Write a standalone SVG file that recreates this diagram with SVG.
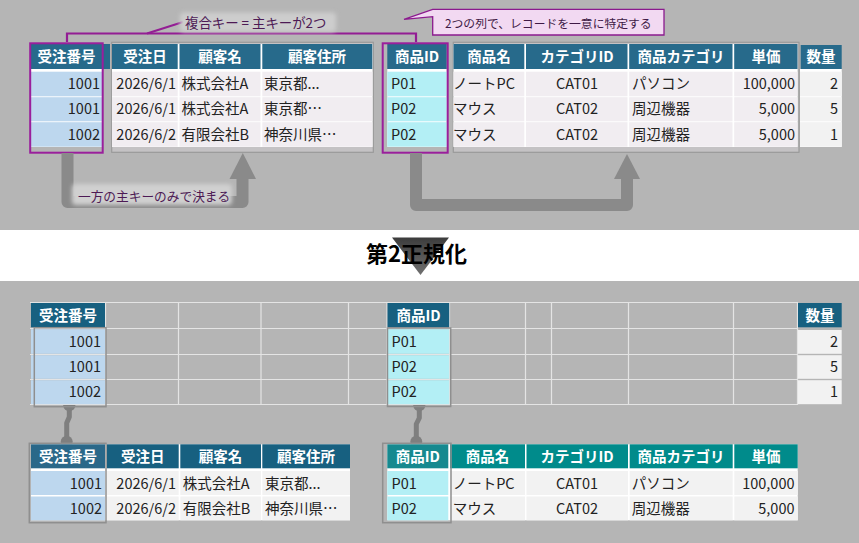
<svg xmlns="http://www.w3.org/2000/svg" width="859" height="543" viewBox="0 0 859 543">
<defs>
<style>
text{font-family:'Noto Sans CJK JP','Noto Sans',sans-serif}
.h{fill:#276a8b}.h2{fill:#176080}.hk{fill:#2a6889}.tl{fill:#008b8b}.tk{fill:#16898f}
.k{fill:#bdd7ee}.cy{fill:#b3eff5}.c1{fill:#f1edf1}.c2{fill:#f2f2f2}.w{fill:#fff}
.ht{font-size:14.5px;font-weight:bold;fill:#fff;text-anchor:middle}
.d{font-size:14.5px;fill:#222}
.e{text-anchor:end}.m{text-anchor:middle}
.fr{fill:#c4c2c4;stroke:#9a9a9a;stroke-width:1.2}
.sel{fill:none;stroke:#8f8f8f;stroke-width:1.5}
.pk{fill:none;stroke:#9a1f9c;stroke-width:2}
.gl{stroke:#e4e4e4;stroke-width:1.2}
.arr{fill:none;stroke:#8a8a8a;stroke-width:12;stroke-linejoin:round}
.ah{fill:#8a8a8a}
.lk{stroke:#7f7f7f;stroke-width:5;fill:none;stroke-linejoin:round}
.dot{fill:#7f7f7f}
.lbl{fill:#4d1a55}
</style>
<filter id="blur" x="-20%" y="-50%" width="140%" height="200%"><feGaussianBlur stdDeviation="2"/></filter>
<linearGradient id="tri" x1="0" y1="0" x2="0" y2="1"><stop offset="0" stop-color="#3c3c3c"/><stop offset="1" stop-color="#707070"/></linearGradient>
</defs>

<rect x="0" y="0" width="859" height="230" fill="#b5b5b5"/>
<rect x="0" y="230" width="859" height="51" fill="#fff"/>
<rect x="0" y="281" width="859" height="262" fill="#b5b5b5"/>

<!-- ===== TOP: unnormalized table ===== -->
<g id="top-order-key">
<rect class="h" x="31" y="44" width="79" height="25"/>
<rect class="w" x="31" y="69" width="71" height="78"/>
<rect class="k" x="31" y="71.7" width="71" height="24.6"/>
<rect class="k" x="31" y="97.2" width="71" height="24.1"/>
<rect class="k" x="31" y="122.2" width="71" height="24.5"/>
<text class="ht" x="66.5" y="62">受注番号</text>
<text class="d e" x="100" y="89">1001</text>
<text class="d e" x="100" y="114">1001</text>
<text class="d e" x="100" y="139.5">1002</text>
<rect class="pk" x="30.2" y="43.3" width="72.5" height="109.4"/>
</g>

<g id="top-order-cols">
<rect class="fr" x="111.7" y="42.3" width="261.6" height="110"/>
<rect class="w" x="112" y="44" width="260.5" height="103"/>
<rect class="h" x="112" y="44" width="65.7" height="25"/>
<rect class="h" x="179.5" y="44" width="81" height="25"/>
<rect class="h" x="262.3" y="44" width="110" height="25"/>
<rect class="c1" x="112" y="71.7" width="65.7" height="24.6"/>
<rect class="c1" x="179.5" y="71.7" width="81" height="24.6"/>
<rect class="c1" x="262.3" y="71.7" width="110" height="24.6"/>
<rect class="c1" x="112" y="97.2" width="65.7" height="24.1"/>
<rect class="c1" x="179.5" y="97.2" width="81" height="24.1"/>
<rect class="c1" x="262.3" y="97.2" width="110" height="24.1"/>
<rect class="c1" x="112" y="122.2" width="65.7" height="24.5"/>
<rect class="c1" x="179.5" y="122.2" width="81" height="24.5"/>
<rect class="c1" x="262.3" y="122.2" width="110" height="24.5"/>
<text class="ht" x="145" y="62">受注日</text>
<text class="ht" x="220" y="62">顧客名</text>
<text class="ht" x="317" y="62">顧客住所</text>
<text class="d e" x="176" y="89">2026/6/1</text>
<text class="d" x="181.5" y="89">株式会社A</text>
<text class="d" x="264" y="89">東京都...</text>
<text class="d e" x="176" y="114">2026/6/1</text>
<text class="d" x="181.5" y="114">株式会社A</text>
<text class="d" x="264" y="114">東京都…</text>
<text class="d e" x="176" y="139.5">2026/6/2</text>
<text class="d" x="181.5" y="139.5">有限会社B</text>
<text class="d" x="264" y="139.5">神奈川県…</text>
</g>

<g id="top-product-key">
<rect class="h" x="387.3" y="44" width="59.4" height="25"/>
<rect class="w" x="387.3" y="69" width="59.4" height="78"/>
<rect class="cy" x="387.3" y="71.7" width="59.4" height="24.6"/>
<rect class="cy" x="387.3" y="97.2" width="59.4" height="24.1"/>
<rect class="cy" x="387.3" y="122.2" width="59.4" height="24.5"/>
<text class="ht" x="417" y="62">商品ID</text>
<text class="d" x="391" y="89">P01</text>
<text class="d" x="391" y="114">P02</text>
<text class="d" x="391" y="139.5">P02</text>
<rect class="pk" x="382.7" y="43.3" width="65" height="109.4"/>
</g>

<g id="top-product-cols">
<rect class="fr" x="453.3" y="42.3" width="345.7" height="110"/>
<rect class="w" x="453.5" y="44" width="344" height="103"/>
<rect class="h" x="453.5" y="44" width="70.8" height="25"/>
<rect class="h" x="526" y="44" width="101.5" height="25"/>
<rect class="h" x="629.2" y="44" width="103.3" height="25"/>
<rect class="h" x="734.2" y="44" width="63.3" height="25"/>
<rect class="c1" x="453.5" y="71.7" width="70.8" height="24.6"/>
<rect class="c1" x="526" y="71.7" width="101.5" height="24.6"/>
<rect class="c1" x="629.2" y="71.7" width="103.3" height="24.6"/>
<rect class="c1" x="734.2" y="71.7" width="63.3" height="24.6"/>
<rect class="c1" x="453.5" y="97.2" width="70.8" height="24.1"/>
<rect class="c1" x="526" y="97.2" width="101.5" height="24.1"/>
<rect class="c1" x="629.2" y="97.2" width="103.3" height="24.1"/>
<rect class="c1" x="734.2" y="97.2" width="63.3" height="24.1"/>
<rect class="c1" x="453.5" y="122.2" width="70.8" height="24.5"/>
<rect class="c1" x="526" y="122.2" width="101.5" height="24.5"/>
<rect class="c1" x="629.2" y="122.2" width="103.3" height="24.5"/>
<rect class="c1" x="734.2" y="122.2" width="63.3" height="24.5"/>
<text class="ht" x="489" y="62">商品名</text>
<text class="ht" x="577" y="62">カテゴリID</text>
<text class="ht" x="681" y="62">商品カテゴリ</text>
<text class="ht" x="766" y="62">単価</text>
<text class="d" x="453" y="89">ノートPC</text>
<text class="d m" x="577" y="89">CAT01</text>
<text class="d" x="632" y="89">パソコン</text>
<text class="d e" x="795" y="89">100,000</text>
<text class="d" x="453" y="114">マウス</text>
<text class="d m" x="577" y="114">CAT02</text>
<text class="d" x="632" y="114">周辺機器</text>
<text class="d e" x="795" y="114">5,000</text>
<text class="d" x="453" y="139.5">マウス</text>
<text class="d m" x="577" y="139.5">CAT02</text>
<text class="d" x="632" y="139.5">周辺機器</text>
<text class="d e" x="795" y="139.5">5,000</text>
</g>

<g id="top-quantity">
<rect class="h" x="800.7" y="45" width="41" height="24"/>
<rect class="w" x="800" y="69" width="41.7" height="78"/>
<rect class="c2" x="800" y="71.7" width="41.7" height="24.6"/>
<rect class="c2" x="800" y="97.2" width="41.7" height="24.1"/>
<rect class="c2" x="800" y="122.2" width="41.7" height="24.5"/>
<text class="ht" x="821" y="62">数量</text>
<text class="d e" x="838" y="89">2</text>
<text class="d e" x="838" y="114">5</text>
<text class="d e" x="838" y="139.5">1</text>
</g>

<!-- connectors -->
<g id="connectors">
<path d="M67,42 V33.5 H416 V42" stroke="#931d94" stroke-width="2.2" fill="none"/>
<path d="M147,33.5 L183,22" stroke="#931d94" stroke-width="2" fill="none"/>
<path class="arr" d="M67.5,153 V202 H242.5 V178"/>
<polygon class="ah" points="229.5,179 256,179 242.8,153"/>
<path class="arr" d="M416,153 V205 H627 V178"/>
<polygon class="ah" points="614,179 640,179 627,154"/>
<path class="lk" d="M69.3,405 V417 L66.7,423 V441.7"/>
<circle class="dot" cx="69.3" cy="405.3" r="6"/>
<circle class="dot" cx="66.7" cy="441.7" r="6"/>
<path class="lk" d="M419.3,405 V418 L416.3,424 V441.7"/>
<circle class="dot" cx="419.3" cy="405.3" r="6"/>
<circle class="dot" cx="416.3" cy="441.7" r="6"/>
</g>

<g id="label-composite-key">
<rect x="180" y="12.5" width="156" height="19.5" rx="4" fill="#cdcdcd" filter="url(#blur)"/>
<text class="lbl" x="185" y="28" style="font-size:13.4px">複合キー&#160;=&#160;主キーが2つ</text>
</g>

<g id="label-unique">
<path d="M404,19.3 L432.7,9.3 H664 V35 H432.7 V16.7 Z" fill="#f2d9f2" stroke="#8b1a8e" stroke-width="1.3"/>
<text x="445" y="28" style="font-size:11.8px" fill="#3e1a45">2つの列で、レコードを一意に特定する</text>
</g>

<g id="label-partial">
<rect x="72" y="184" width="160" height="21" rx="4" fill="#d0d0d0" filter="url(#blur)"/>
<text class="lbl" x="78" y="200.5" style="font-size:12.7px">一方の主キーのみで決まる</text>
</g>

<g id="step-title">
<polygon points="392,237.5 449,237.5 420.5,275" fill="url(#tri)"/>
<text x="416.5" y="262" font-size="22" font-weight="bold" fill="#000" text-anchor="middle">第2正規化</text>
</g>

<!-- ===== BOTTOM ===== -->
<g id="grid" class="gl">
<line x1="30" y1="302.5" x2="798" y2="302.5"/>
<line x1="30" y1="328.5" x2="798" y2="328.5"/>
<line x1="30" y1="354.5" x2="798" y2="354.5"/>
<line x1="30" y1="379.5" x2="798" y2="379.5"/>
<line x1="30" y1="404.5" x2="798" y2="404.5"/>
<line x1="105.5" y1="302" x2="105.5" y2="405"/>
<line x1="178.5" y1="302" x2="178.5" y2="405"/>
<line x1="261" y1="302" x2="261" y2="405"/>
<line x1="348.5" y1="302" x2="348.5" y2="405"/>
<line x1="387" y1="302" x2="387" y2="405"/>
<line x1="449.5" y1="302" x2="449.5" y2="405"/>
<line x1="525.5" y1="302" x2="525.5" y2="405"/>
<line x1="551.5" y1="302" x2="551.5" y2="405"/>
<line x1="628.5" y1="302" x2="628.5" y2="405"/>
<line x1="733.5" y1="302" x2="733.5" y2="405"/>
<line x1="797.5" y1="302" x2="797.5" y2="405"/>
</g>

<g id="mid-order-key">
<rect class="h2" x="31" y="303" width="74" height="24.3"/>
<rect class="k" x="31" y="329.2" width="74" height="24.6"/>
<rect class="k" x="31" y="355.2" width="74" height="23.6"/>
<rect class="k" x="31" y="380.2" width="74" height="24"/>
<text class="ht" x="68" y="320.5">受注番号</text>
<text class="d e" x="101" y="346.5">1001</text>
<text class="d e" x="101" y="371.5">1001</text>
<text class="d e" x="101" y="396.5">1002</text>
<rect class="sel" x="34.3" y="327.7" width="71.7" height="79"/>
</g>

<g id="mid-product-key">
<rect class="h2" x="387.5" y="303" width="61.7" height="24.3"/>
<rect class="cy" x="387.5" y="329.2" width="61.7" height="24.6"/>
<rect class="cy" x="387.5" y="355.2" width="61.7" height="23.6"/>
<rect class="cy" x="387.5" y="380.2" width="61.7" height="24"/>
<text class="ht" x="418.5" y="320.5">商品ID</text>
<text class="d" x="391.5" y="346.5">P01</text>
<text class="d" x="391.5" y="371.5">P02</text>
<text class="d" x="391.5" y="396.5">P02</text>
<rect class="sel" x="387.5" y="328" width="63.2" height="78.5"/>
</g>

<g id="mid-quantity">
<rect class="h2" x="798" y="303" width="43.7" height="24.3"/>
<rect class="c2" x="798" y="330" width="43.7" height="23.8"/>
<rect class="c2" x="798" y="355.2" width="43.7" height="23.6"/>
<rect class="c2" x="798" y="380.2" width="43.7" height="24"/>
<text class="ht" x="820" y="320.5">数量</text>
<text class="d e" x="838" y="346.5">2</text>
<text class="d e" x="838" y="371.5">5</text>
<text class="d e" x="838" y="396.5">1</text>
</g>

<g id="order-table">
<rect class="w" x="31" y="444.3" width="319" height="76"/>
<rect class="hk" x="31" y="444.3" width="74" height="24"/>
<rect class="h2" x="106.7" y="444.3" width="72" height="24"/>
<rect class="h2" x="180.3" y="444.3" width="80.7" height="24"/>
<rect class="h2" x="262.3" y="444.3" width="87.7" height="24"/>
<rect class="k" x="31" y="471" width="74" height="24"/>
<rect class="c2" x="106.7" y="471" width="72" height="24"/>
<rect class="c2" x="180.3" y="471" width="80.7" height="24"/>
<rect class="c2" x="262.3" y="471" width="87.7" height="24"/>
<rect class="k" x="31" y="496.5" width="74" height="23.8"/>
<rect class="c2" x="106.7" y="496.5" width="72" height="23.8"/>
<rect class="c2" x="180.3" y="496.5" width="80.7" height="23.8"/>
<rect class="c2" x="262.3" y="496.5" width="87.7" height="23.8"/>
<text class="ht" x="68" y="461.5">受注番号</text>
<text class="ht" x="142.7" y="461.5">受注日</text>
<text class="ht" x="220.6" y="461.5">顧客名</text>
<text class="ht" x="306" y="461.5">顧客住所</text>
<text class="d e" x="102" y="489">1001</text>
<text class="d e" x="176" y="489">2026/6/1</text>
<text class="d" x="182.7" y="489">株式会社A</text>
<text class="d" x="265" y="489">東京都...</text>
<text class="d e" x="102" y="513.5">1002</text>
<text class="d e" x="176" y="513.5">2026/6/2</text>
<text class="d" x="182.7" y="513.5">有限会社B</text>
<text class="d" x="265" y="513.5">神奈川県…</text>
<rect class="sel" x="29.3" y="443.3" width="76.7" height="79.4"/>
</g>

<g id="product-table">
<rect class="w" x="387.3" y="444.3" width="410.4" height="76"/>
<rect class="tk" x="387.3" y="444.3" width="61" height="24"/>
<rect class="tl" x="450" y="444.3" width="75" height="24"/>
<rect class="tl" x="526.5" y="444.3" width="101.5" height="24"/>
<rect class="tl" x="629.7" y="444.3" width="103" height="24"/>
<rect class="tl" x="734.3" y="444.3" width="63.4" height="24"/>
<rect class="cy" x="387.3" y="471" width="61" height="24"/>
<rect class="c2" x="450" y="471" width="75" height="24"/>
<rect class="c2" x="526.5" y="471" width="101.5" height="24"/>
<rect class="c2" x="629.7" y="471" width="103" height="24"/>
<rect class="c2" x="734.3" y="471" width="63.4" height="24"/>
<rect class="cy" x="387.3" y="496.5" width="61" height="23.8"/>
<rect class="c2" x="450" y="496.5" width="75" height="23.8"/>
<rect class="c2" x="526.5" y="496.5" width="101.5" height="23.8"/>
<rect class="c2" x="629.7" y="496.5" width="103" height="23.8"/>
<rect class="c2" x="734.3" y="496.5" width="63.4" height="23.8"/>
<text class="ht" x="417.8" y="461.5">商品ID</text>
<text class="ht" x="487.5" y="461.5">商品名</text>
<text class="ht" x="577" y="461.5">カテゴリID</text>
<text class="ht" x="681" y="461.5">商品カテゴリ</text>
<text class="ht" x="766" y="461.5">単価</text>
<text class="d" x="391.5" y="489">P01</text>
<text class="d" x="452.7" y="489">ノートPC</text>
<text class="d m" x="577" y="489">CAT01</text>
<text class="d" x="631.7" y="489">パソコン</text>
<text class="d e" x="794.5" y="489">100,000</text>
<text class="d" x="391.5" y="513.5">P02</text>
<text class="d" x="452.7" y="513.5">マウス</text>
<text class="d m" x="577" y="513.5">CAT02</text>
<text class="d" x="631.7" y="513.5">周辺機器</text>
<text class="d e" x="794.5" y="513.5">5,000</text>
<rect class="sel" x="382.7" y="443.3" width="68.3" height="79.4"/>
</g>
</svg>
